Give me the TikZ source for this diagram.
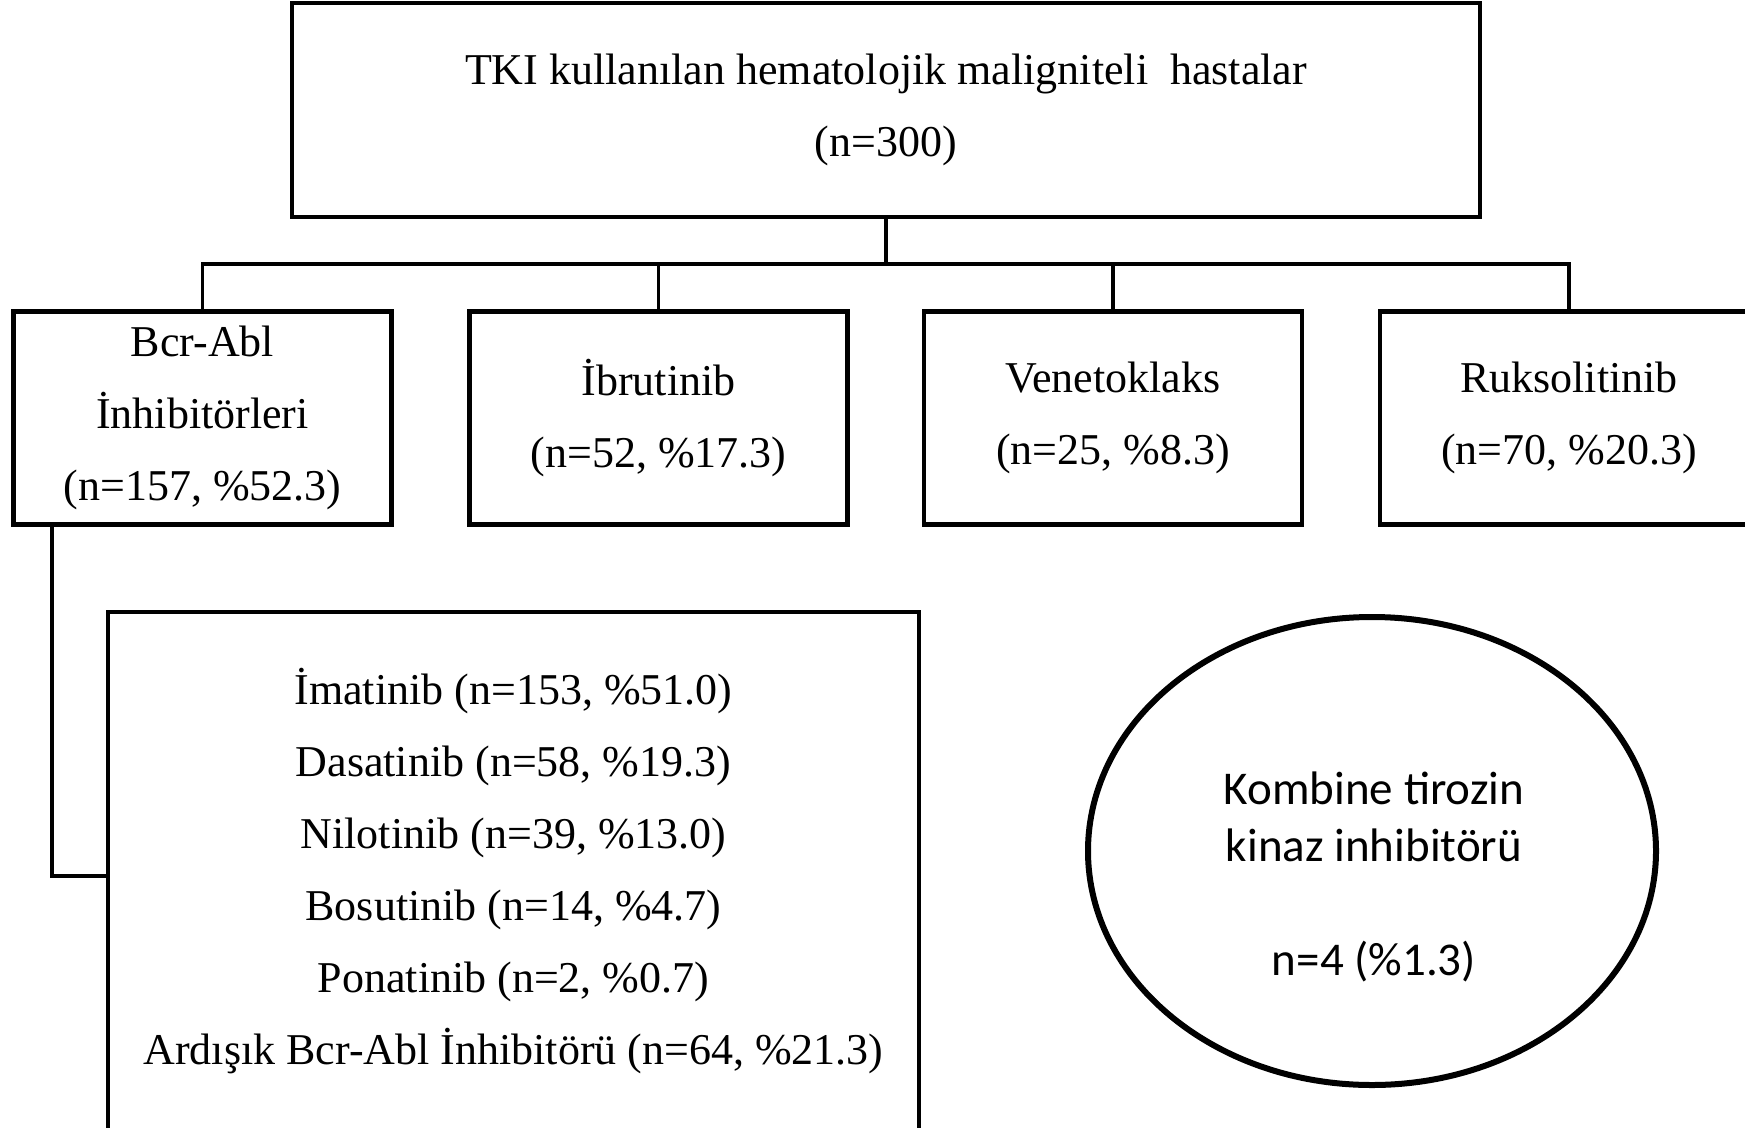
\documentclass[tikz,border=0pt]{standalone}
\usepackage{fontspec}
\setmainfont{Liberation Serif}
\newfontfamily\calib{Carlito}
\usetikzlibrary{shapes.geometric}
\begin{document}
\begin{tikzpicture}[x=1pt,y=-1pt,
  box/.style={draw,line width=4.2pt,rectangle,inner sep=0pt,outer sep=0pt,align=center,
    minimum width=378pt,minimum height=213pt,font=\fontsize{44}{72}\selectfont},
  conn/.style={line width=3.4pt},
  ellbox/.style={draw,ellipse,line width=6pt,inner sep=0pt,outer sep=0pt},
  elltext/.style={align=center,inner sep=0pt,font=\calib\fontsize{47}{57}\selectfont}
]
\useasboundingbox (0,0) rectangle (1745,1127);
\clip (0,0) rectangle (1745,1127);
\fill[white] (0,0) rectangle (1745,1127);

\node[box,minimum width=1188pt,minimum height=214pt] (top) at (886,110)
  {TKI kullanılan hematolojik maligniteli\ \ hastalar\\(n=300)};

\node[box] (b1) at (202.5,418) {Bcr-Abl\\İnhibitörleri\\(n=157, \%52.3)};
\node[box] (b2) at (658.5,418) {İbrutinib\\(n=52, \%17.3)};
\node[box] (b3) at (1113,418) {Venetoklaks\\(n=25, \%8.3)};
\node[box] (b4) at (1569,418) {Ruksolitinib\\(n=70, \%20.3)};

\node[box,minimum width=811pt,minimum height=518pt] (sub) at (513.5,871)
  {İmatinib (n=153, \%51.0)\\Dasatinib\ (n=58, \%19.3)\\Nilotinib (n=39, \%13.0)\\Bosutinib (n=14, \%4.7)\\Ponatinib (n=2, \%0.7)\\Ardışık Bcr-Abl İnhibitörü (n=64, \%21.3)};

\node[ellbox,minimum width=568pt,minimum height=468pt] (ell) at (1372,851) {};
\node[elltext] (kt) at (1374,877) {Kombine tirozin\\kinaz inhibitörü\\[57pt]n=4 (\%1.3)};

\coordinate (bus) at (0,264);
\coordinate (j) at (52,876);
\draw[conn] (top.south) -- (top.south |- bus);
\draw[conn] (b1.north) |- (b4.north |- bus) -- (b4.north);
\draw[conn] (b2.north) -- (b2.north |- bus);
\draw[conn] (b3.north) -- (b3.north |- bus);
\draw[conn] (b1.south -| j) |- (sub.west |- j);
\end{tikzpicture}
\end{document}
